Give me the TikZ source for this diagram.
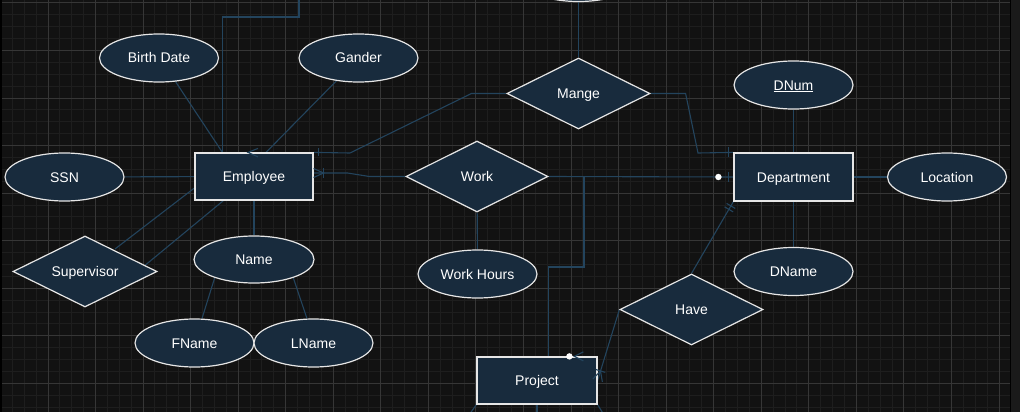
\documentclass[tikz,border=0pt]{standalone}
\usepackage{fontspec}
\setmainfont{Liberation Sans}
\usetikzlibrary{shapes.geometric,calc}
\pgfdeclarelayer{gridlayer}
\pgfdeclarelayer{edgelayer}
\pgfsetlayers{gridlayer,edgelayer,main}
\definecolor{bgc}{HTML}{121212}
\definecolor{gminor}{HTML}{1E1E1E}
\definecolor{gmajor}{HTML}{363636}
\definecolor{nfill}{HTML}{182B3D}
\definecolor{nborder}{HTML}{E6E6E6}
\definecolor{connc}{HTML}{23445D}
\definecolor{stripc}{HTML}{1A1A1A}
\begin{document}
\begin{tikzpicture}[x=1pt,y=-1pt,
  base/.style={fill=nfill,draw=nborder,line width=1.2pt,text=white,
    font=\fontsize{14}{16}\selectfont,inner sep=0pt,text height=10pt,text depth=0pt},
  entity/.style={base,rectangle,minimum width=118pt,minimum height=47pt},
  attr/.style={base,ellipse,minimum width=119pt,minimum height=48pt},
  rel/.style={base,diamond,shape aspect=2,minimum width=143pt,minimum height=71pt},
  link/.style={draw=connc,line width=1.1pt},
  dotmark/.style={fill=white,draw=none}]
\useasboundingbox (0,0) rectangle (1020,412);

% nodes
\node[entity] (emp) at (254,176.5) {Employee};
\node[entity,minimum width=119pt,minimum height=48pt] (dept) at (793.5,177) {Department};
\node[entity,minimum width=120pt] (proj) at (537,380.5) {Project};
\node[attr] (bd) at (159,58) {Birth Date};
\node[attr] (gan) at (358.5,58) {Gander};
\node[attr] (ssn) at (64.5,177) {SSN};
\node[rel,minimum width=144pt] (sup) at (85,271.5) {Supervisor};
\node[attr,minimum width=120pt,minimum height=47pt] (name) at (254,259.5) {Name};
\node[attr] (fname) at (194.5,343) {FName};
\node[attr] (lname) at (313.5,343) {LName};
\node[rel,minimum width=142pt] (work) at (477,176.5) {Work};
\node[attr] (wh) at (477.5,274) {Work Hours};
\node[rel] (mange) at (578.5,93.5) {Mange};
\node[attr] (topell) at (578.5,-22.5) {};
\node[attr] (dnum) at (793.5,85) {\underline{DNum}};
\node[attr] (loc) at (947,177) {Location};
\node[attr] (dname) at (793.5,271.5) {DName};
\node[rel] (have) at (691.5,309.5) {Have};

\coordinate (offtop) at (299,-20);
\coordinate (offbl) at (469,415);
\coordinate (offbm) at (537,415);
\coordinate (offbr) at (604,415);

\begin{pgfonlayer}{gridlayer}
  \fill[bgc] (0,0) rectangle (1020,412);
  \foreach \i in {0,...,84} \draw[gminor,line width=1pt] ({0.45+\i*11.8875},0) -- ({0.45+\i*11.8875},412);
  \foreach \j in {0,...,34} \draw[gminor,line width=1pt] (0,{3+\j*11.8875}) -- (1010,{3+\j*11.8875});
  \foreach \i in {0,...,21} \draw[gmajor,line width=1pt] ({0.45+\i*47.55},0) -- ({0.45+\i*47.55},412);
  \foreach \j in {0,...,8} \draw[gmajor,line width=1pt] (0,{3+\j*47.55}) -- (1010,{3+\j*47.55});
  \fill[stripc] (1010,0) rectangle (1020,412);
  \draw[black,line width=1pt] (1010.5,0) -- (1010.5,412);
  \fill[black] (0,0) rectangle (2,412);
\end{pgfonlayer}

\begin{pgfonlayer}{edgelayer}
  \draw[link] (ssn) -- (emp);
  \draw[link] (emp) -- (name);
  \draw[link] (name.-155) -- (fname.73);
  \draw[link] (name.-25) -- (lname.105);
  \draw[link] (bd.-55) -- ($(emp.north west)+(28,0)$);
  \draw[link] ($(emp.north west)+(28,0)$) |- ($(offtop)+(0,37)$) -- (offtop);
  \draw[link] (gan.-134) -- ($(emp.north)+(12,0)$);
  \draw[link] ($(sup.center)+(30,-22.5)$) -- ($(emp.west)+(0,11.5)$);
  \draw[link] ($(sup.center)+(58,-4.5)$) -- ($(emp.south west)+(29,0)$);
  \draw[link] (work.west) -- ++(-36,0) -- ++(-22,-3.5) -- ($(emp.east)+(0,-3.5)$);
  \draw[link] (work.east) -- (dept.west);
  \draw[link] (work.east) -| (584,267) -| ($(proj.north west)+(72,0)$);
  \draw[link] (work) -- (wh);
  \draw[link] (mange.north) -- (topell.south);
  \draw[link] (mange.west) -- ++(-35,0) -- (350,153) -- (emp.north east);
  \draw[link] (mange.east) -- ++(35,0) -- (698,153) -- (dept.north west);
  \draw[link] (dnum) -- (dept);
  \draw[link] (dept) -- (loc);
  \draw[link] (dept) -- (dname);
  \draw[link] (have.west) -- (proj.east);
  \draw[link] (have.north) -- (dept.south west);
  \draw[link] (proj.south west) -- (offbl);
  \draw[link] (proj.south) -- (offbm);
  \draw[link] (proj.south east) -- (offbr);
\end{pgfonlayer}

% markers
\draw[link] ($(emp.east)+(0,-8)$) -- ($(emp.east)+(10,-3.5)$) -- ($(emp.east)+(0,1)$);
\draw[link] ($(emp.east)+(10,-8.5)$) -- ($(emp.east)+(10,1.5)$);
\draw[link] ($(emp.north east)+(5,-4)$) -- ++(0,8);
\draw[link] ($(emp.north)+(4,-4)$) -- ($(emp.north)+(-6,0)$) -- ($(emp.north)+(4,4.5)$);
\draw[link] ($(dept.north west)+(-5,-5)$) -- ++(0,10);
\fill[dotmark] ($(dept.west)+(-15,0)$) circle (3.2);
\draw[link] ($(dept.west)+(-5,-5)$) -- ++(0,10);
\fill[dotmark] ($(proj.north west)+(93,0)$) circle (3.2);
\draw[link] ($(proj.north west)+(107,-4.5)$) -- ($(proj.north west)+(98,0)$) -- ($(proj.north west)+(107,4.5)$);
% Have -> Project crow's foot with bar
\coordinate (hpE) at (proj.east);
\coordinate (hpP) at ($(proj.east)!10pt!(have.west)$);
\draw[link] ($(hpE)!5pt!90:(hpP)$) -- (hpP) -- ($(hpE)!5pt!-90:(hpP)$);
\draw[link] ($(hpP)!5pt!90:(hpE)$) -- ($(hpP)!5pt!-90:(hpE)$);
% Have -> Department double bar
\coordinate (hdE) at (dept.south west);
\coordinate (hdA) at ($(dept.south west)!5pt!(have.north)$);
\coordinate (hdB) at ($(dept.south west)!9pt!(have.north)$);
\draw[link] ($(hdA)!5pt!90:(hdE)$) -- ($(hdA)!5pt!-90:(hdE)$);
\draw[link] ($(hdB)!5pt!90:(hdE)$) -- ($(hdB)!5pt!-90:(hdE)$);
\end{tikzpicture}
\end{document}
